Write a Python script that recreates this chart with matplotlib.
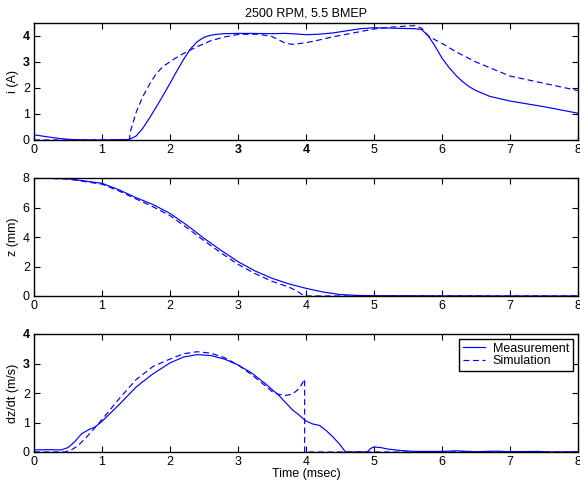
import matplotlib
matplotlib.use("Agg")
import matplotlib.pyplot as plt

plt.rcParams['font.family'] = ['Liberation Sans', 'DejaVu Sans']
plt.rcParams['font.size'] = 9

# Coil current (A)
t_i_meas = [0, 0.2, 0.4, 0.6, 1.0, 1.4, 1.5, 1.6, 1.7, 1.8, 1.9, 2.0, 2.1, 2.2, 2.3,
            2.4, 2.5, 2.6, 2.7, 2.8, 3.0, 3.2, 3.5, 3.7, 3.9, 4.0, 4.2, 4.4, 4.6, 4.8,
            5.0, 5.3, 5.6, 5.7, 5.8, 5.9, 6.0, 6.1, 6.2, 6.3, 6.4, 6.5, 6.7, 7.0, 7.5, 8.0]
i_meas = [0.2, 0.12, 0.05, 0.01, 0.0, 0.02, 0.15, 0.45, 0.85, 1.28, 1.72, 2.18, 2.65, 3.1, 3.5,
          3.78, 3.95, 4.03, 4.07, 4.09, 4.1, 4.1, 4.09, 4.1, 4.07, 4.05, 4.07, 4.12, 4.2, 4.28,
          4.32, 4.3, 4.28, 4.25, 4.0, 3.6, 3.15, 2.8, 2.5, 2.25, 2.05, 1.9, 1.68, 1.5, 1.28, 1.03]

t_i_sim = [0, 1.4, 1.42, 1.5, 1.6, 1.7, 1.8, 1.9, 2.0, 2.1, 2.2, 2.4, 2.6, 2.8, 3.0, 3.3, 3.5,
           3.6, 3.7, 3.8, 4.0, 4.2, 4.4, 4.7, 5.0, 5.3, 5.6, 5.7, 5.8, 5.9, 6.0, 6.2, 6.5, 7.0, 7.5, 8.0]
i_sim = [0, 0, 0.35, 1.05, 1.67, 2.15, 2.56, 2.83, 3.01, 3.18, 3.33, 3.59, 3.82, 3.96, 4.06, 4.07, 3.98,
         3.85, 3.72, 3.68, 3.74, 3.85, 3.97, 4.12, 4.27, 4.35, 4.4, 4.3, 4.0, 3.85, 3.72, 3.4, 3.0, 2.46, 2.18, 1.9]

# Valve lift (mm)
t_z_meas = [0, 0.5, 1.0, 1.25, 1.5, 1.75, 2.0, 2.25, 2.5, 2.75, 3.0, 3.25, 3.5, 3.75,
            4.0, 4.25, 4.5, 4.75, 5.0, 6.0, 7.0, 8.0]
z_meas = [8.0, 7.95, 7.64, 7.2, 6.67, 6.2, 5.6, 4.8, 3.91, 3.1, 2.33, 1.7, 1.2, 0.82,
          0.52, 0.27, 0.1, 0.04, 0.02, 0.01, 0.0, 0.0]

t_z_sim = [0, 0.5, 1.0, 1.25, 1.5, 1.75, 2.0, 2.25, 2.5, 2.75, 3.0, 3.25, 3.5, 3.75, 3.85, 3.98, 8.0]
z_sim = [8.0, 7.93, 7.58, 7.12, 6.58, 6.05, 5.45, 4.62, 3.75, 2.92, 2.15, 1.52, 1.0, 0.6, 0.38, 0.0, 0.0]

# Valve velocity (m/s)
t_v_meas = [0, 0.2, 0.4, 0.5, 0.6, 0.7, 0.8, 0.9, 1.0, 1.25, 1.5, 1.75, 2.0, 2.2, 2.4, 2.6,
            2.8, 3.0, 3.2, 3.4, 3.6, 3.8, 3.9, 4.0, 4.1, 4.2, 4.3, 4.4, 4.5, 4.58, 4.9, 4.95,
            5.0, 5.1, 5.2, 5.4, 5.6, 6.0, 6.2, 6.5, 6.8, 7.0, 7.4, 7.6, 8.0]
v_meas = [0.07, 0.08, 0.07, 0.15, 0.35, 0.62, 0.75, 0.85, 1.04, 1.6, 2.2, 2.65, 3.02, 3.22, 3.3, 3.27,
          3.15, 2.95, 2.68, 2.32, 1.92, 1.43, 1.25, 1.05, 0.95, 0.9, 0.72, 0.5, 0.25, 0.0, 0.0, 0.12,
          0.17, 0.15, 0.1, 0.05, 0.02, 0.02, 0.04, 0.01, 0.03, 0.01, 0.02, 0.0, 0.01]

t_v_sim = [0, 0.45, 0.55, 0.65, 0.75, 0.85, 1.0, 1.25, 1.5, 1.75, 2.0, 2.2, 2.4, 2.6, 2.8, 3.0,
           3.2, 3.4, 3.5, 3.6, 3.7, 3.8, 3.9, 3.98, 3.98, 8.0]
v_sim = [0, 0, 0.07, 0.22, 0.45, 0.7, 1.1, 1.8, 2.45, 2.9, 3.15, 3.33, 3.4, 3.35, 3.2, 2.95,
         2.62, 2.25, 2.05, 1.95, 1.92, 1.96, 2.15, 2.47, 0, 0]

x_ticks = list(range(9))

fig = plt.figure(figsize=(5.8, 4.88), dpi=100)
left, width = 34 / 580, 544 / 580
ax1 = fig.add_axes([left, 1 - 140 / 488, width, 117 / 488])
ax2 = fig.add_axes([left, 1 - 296 / 488, width, 118 / 488])
ax3 = fig.add_axes([left, 1 - 452 / 488, width, 118 / 488])

dash = (0, (5, 3))
lw = 0.85

ax1.plot(t_i_meas, i_meas, color='b', lw=lw)
ax1.plot(t_i_sim, i_sim, color='b', lw=lw, linestyle=dash)
ax2.plot(t_z_meas, z_meas, color='b', lw=lw)
ax2.plot(t_z_sim, z_sim, color='b', lw=lw, linestyle=dash)
ax3.plot(t_v_meas, v_meas, color='b', lw=lw, label='Measurement')
ax3.plot(t_v_sim, v_sim, color='b', lw=lw, linestyle=dash, label='Simulation')

ax1.set_ylim(0, 4.5)
ax1.set_yticks([0, 1, 2, 3, 4])
ax2.set_ylim(0, 8)
ax2.set_yticks([0, 2, 4, 6, 8])
ax3.set_ylim(0, 4)
ax3.set_yticks([0, 1, 2, 3, 4])

for ax in (ax1, ax2, ax3):
    ax.set_xlim(0, 8)
    ax.set_xticks(x_ticks)
    ax.tick_params(direction='in', top=True, right=True, length=4, width=0.8,
                   labelsize=9, pad=3)
    for s in ax.spines.values():
        s.set_linewidth(1.0)

ax1.set_ylabel('i (A)', labelpad=3)
ax2.set_ylabel('z (mm)', labelpad=3)
ax3.set_ylabel('dz/dt (m/s)', labelpad=3)
ax3.set_xlabel('Time (msec)', labelpad=0)
ax1.set_title('2500 RPM, 5.5 BMEP', fontsize=9, pad=5)

# some labels come out heavier in the original
for k in (3, 4):
    ax1.get_xticklabels()[k].set_fontweight('bold')
    ax1.get_yticklabels()[k].set_fontweight('bold')
    ax3.get_yticklabels()[k].set_fontweight('bold')

leg = ax3.legend(loc='upper right', fancybox=False, framealpha=1, edgecolor='black',
                 fontsize=9, handlelength=1.8, handletextpad=0.6, borderpad=0.3,
                 labelspacing=0.05, borderaxespad=0.4)
leg.get_frame().set_linewidth(1.0)

plt.savefig('out.png', dpi=100)
plt.close()
